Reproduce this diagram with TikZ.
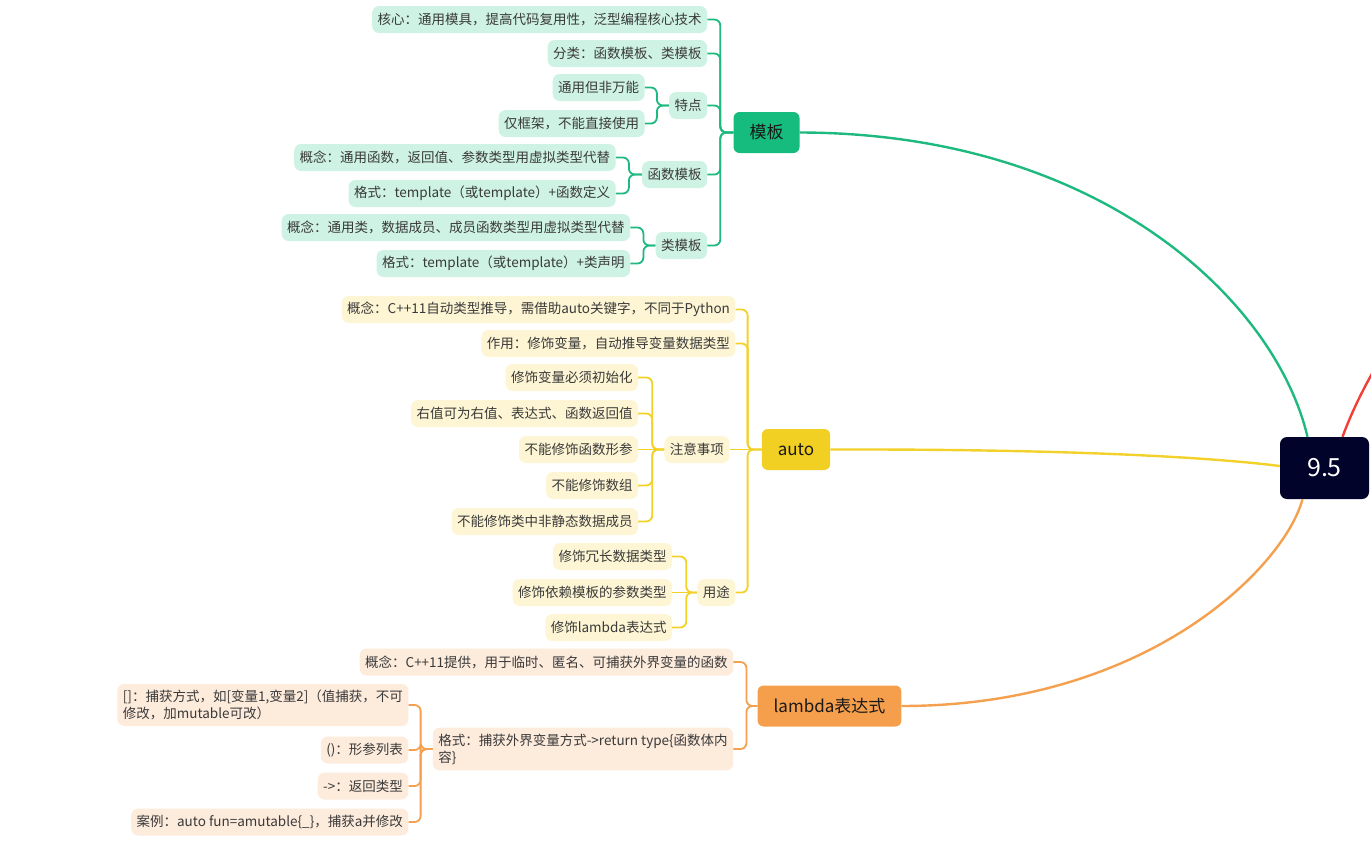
\documentclass[tikz,border=0pt]{standalone}
\usepackage{fontspec}
\newfontfamily\cjk{Noto Sans CJK SC}
\usepackage{xcolor}
\usetikzlibrary{positioning}
\definecolor{gline}{HTML}{1DB97F}
\definecolor{gmain}{HTML}{15BC7D}
\definecolor{glight}{HTML}{CEF2E4}
\definecolor{yline}{HTML}{F3D12B}
\definecolor{ymain}{HTML}{F2D023}
\definecolor{ylight}{HTML}{FDF5D3}
\definecolor{oline}{HTML}{F5A04E}
\definecolor{omain}{HTML}{F59E4B}
\definecolor{olight}{HTML}{FDEBDC}
\definecolor{rline}{HTML}{F23F38}
\definecolor{rootblue}{HTML}{02032A}
\definecolor{txtgray}{HTML}{3A3A3A}
\tikzset{
  % leaf text boxes
  leaf/.style={
    rounded corners=7pt, minimum height=27pt, inner xsep=5.5pt, inner ysep=2pt,
    text=txtgray, font=\cjk\fontsize{13.5}{17}\selectfont
  },
  twoline/.style={align=left, inner ysep=6pt},
  gleaf/.style={leaf, fill=glight},
  yleaf/.style={leaf, fill=ylight},
  oleaf/.style={leaf, fill=olight},
  % main topics
  topic/.style={
    rounded corners=6pt, minimum height=41pt, inner xsep=16pt,
    text=black!90, font=\cjk\fontsize{17}{20}\selectfont
  },
  % connectors
  glink/.style={gline, line width=1.8pt, rounded corners=6pt},
  ylink/.style={yline, line width=1.8pt, rounded corners=6pt},
  olink/.style={oline, line width=1.8pt, rounded corners=6pt},
  mainarr/.style={line width=2.4pt},
}

\begin{document}
\begin{tikzpicture}[x=1pt,y=-1pt]
  \useasboundingbox (0,0) rectangle (1371,849);
  \clip (0,0) rectangle (1371,849);

  \node (root) [fill=rootblue, rounded corners=7pt
               , minimum width=89pt, minimum height=62pt
               , text=white, font=\cjk\fontsize{25}{28}\selectfont
               ] at (1324.5,468) {9.5};
  \coordinate (hidden) at (1470,240);

  \node (muban) [topic, fill=gmain] at (766.5,132.5) {模板};
  \node (auto) [topic, fill=ymain] at (796,449.5) {auto};
  \node (lambda) [topic, fill=omain] at (829.5,706) {lambda表达式};

  % template branch
  \node (hexin) [gleaf, left=26pt of muban, yshift=113pt]
        {核心：通用模具，提高代码复用性，泛型编程核心技术\hspace{9pt}};
  \node (fenlei) [gleaf, left=26pt of muban, yshift=79pt]
        {分类：函数模板、类模板\hspace{10pt}};
  \node (tedian) [gleaf, left=26pt of muban, yshift=27pt] {特点};
  \node (hanshu) [gleaf, left=26pt of muban, yshift=-42pt] {函数模板};
  \node (leimb) [gleaf, left=26pt of muban, yshift=-113pt] {类模板};

  \node (tongyong) [gleaf, left=24pt of tedian, yshift=18pt] {通用但非万能};
  \node (kuangjia) [gleaf, left=24pt of tedian, yshift=-18pt] {仅框架，不能直接使用};
  \node (hsgn) [gleaf, left=26pt of hanshu, yshift=17pt]
        {概念：通用函数，返回值、参数类型用虚拟类型代替};
  \node (hsgs) [gleaf, left=26pt of hanshu, yshift=-19pt]
        {格式：template（或template）+函数定义};
  \node (lgn) [gleaf, left=25pt of leimb, yshift=18pt]
        {概念：通用类，数据成员、成员函数类型用虚拟类型代替};
  \node (lgs) [gleaf, left=25pt of leimb, yshift=-18pt]
        {格式：template（或template）+类声明};

  % auto branch
  \node (agn) [yleaf, left=26pt of auto, yshift=140pt]
        {概念：C++11自动类型推导，需借助auto关键字，不同于Python\hspace{8pt}};
  \node (azy) [yleaf, left=26pt of auto, yshift=106pt]
        {作用：修饰变量，自动推导变量数据类型};
  \node (zhuyi) [yleaf, left=32pt of auto] {注意事项};
  \node (yongtu) [yleaf, left=26pt of auto, yshift=-143pt] {用途};

  \node (chushi) [yleaf, left=26pt of zhuyi, yshift=72pt] {修饰变量必须初始化};
  \node (youzhi) [yleaf, left=26pt of zhuyi, yshift=36pt] {右值可为右值、表达式、函数返回值};
  \node (xingcan) [yleaf, left=26pt of zhuyi] {不能修饰函数形参};
  \node (shuzu) [yleaf, left=26pt of zhuyi, yshift=-36pt] {不能修饰数组};
  \node (feijt) [yleaf, left=26pt of zhuyi, yshift=-72pt] {不能修饰类中非静态数据成员};

  \node (rongchang) [yleaf, left=25pt of yongtu, yshift=36pt] {修饰冗长数据类型};
  \node (yilai) [yleaf, left=25pt of yongtu] {修饰依赖模板的参数类型};
  \node (xlambda) [yleaf, left=25pt of yongtu, yshift=-35pt] {修饰lambda表达式};

  % lambda branch
  \node (ogn) [oleaf, left=24pt of lambda, yshift=44pt]
        {概念：C++11提供，用于临时、匿名、可捕获外界变量的函数\hspace{8pt}};
  \node (ogs) [oleaf, twoline, left=24pt of lambda, yshift=-43pt]
        {格式：捕获外界变量方式->return type\{函数体内\\容\}};

  \node (buhuo) [oleaf, twoline, left=24pt of ogs, yshift=44pt]
        {[]：捕获方式，如[变量1,变量2]（值捕获，不可\\修改，加mutable可改）};
  \node (xclb) [oleaf, left=24pt of ogs, yshift=-1pt] {()：形参列表};
  \node (fhlx) [oleaf, left=24pt of ogs, yshift=-37pt] {->：返回类型};
  \node (anli) [oleaf, left=24pt of ogs, yshift=-73pt]
        {案例：auto fun=amutable\{\_\}，捕获a并修改};

  % main curves
  \draw[gline, mainarr] (muban.east) .. controls (1100,133) and (1275,300)
        .. ([xshift=-17pt]root.north);
  \draw[yline, mainarr] (auto.east) .. controls (1050,449) and (1200,456)
        .. ([yshift=2pt]root.west);
  \draw[oline, mainarr] (lambda.east) .. controls (1150,706) and (1285,565)
        .. ([xshift=-22pt]root.south);
  \draw[rline, mainarr] ([xshift=18pt]root.north) .. controls (1358,395) and (1390,330)
        .. (hidden);

  % template links
  \draw[glink] (muban.west) -- ++(-13,0) |- (hexin.east);
  \draw[glink] (muban.west) -- ++(-13,0) |- (fenlei.east);
  \draw[glink] (muban.west) -- ++(-13,0) |- (tedian.east);
  \draw[glink] (muban.west) -- ++(-13,0) |- (hanshu.east);
  \draw[glink] (muban.west) -- ++(-13,0) |- (leimb.east);
  \draw[glink] (tedian.west) -- ++(-12,0) |- (tongyong.east);
  \draw[glink] (tedian.west) -- ++(-12,0) |- (kuangjia.east);
  \draw[glink] (hanshu.west) -- ++(-13,0) |- (hsgn.east);
  \draw[glink] (hanshu.west) -- ++(-13,0) |- (hsgs.east);
  \draw[glink] (leimb.west) -- ++(-12,0) |- (lgn.east);
  \draw[glink] (leimb.west) -- ++(-12,0) |- (lgs.east);

  % auto links
  \draw[ylink] (auto.west) -- ++(-14,0) |- (agn.east);
  \draw[ylink] (auto.west) -- ++(-14,0) |- (azy.east);
  \draw[ylink] (auto.west) -- (zhuyi.east);
  \draw[ylink] (auto.west) -- ++(-14,0) |- (yongtu.east);
  \draw[ylink] (zhuyi.west) -- ++(-12,0) |- (chushi.east);
  \draw[ylink] (zhuyi.west) -- ++(-12,0) |- (youzhi.east);
  \draw[ylink] (zhuyi.west) -- (xingcan.east);
  \draw[ylink] (zhuyi.west) -- ++(-12,0) |- (shuzu.east);
  \draw[ylink] (zhuyi.west) -- ++(-12,0) |- (feijt.east);
  \draw[ylink] (yongtu.west) -- ++(-11,0) |- (rongchang.east);
  \draw[ylink] (yongtu.west) -- (yilai.east);
  \draw[ylink] (yongtu.west) -- ++(-11,0) |- (xlambda.east);

  % lambda links
  \draw[olink] (lambda.west) -- ++(-11,0) |- (ogn.east);
  \draw[olink] (lambda.west) -- ++(-11,0) |- (ogs.east);
  \draw[olink] (ogs.west) -- ++(-12,0) |- (buhuo.east);
  \draw[olink] (ogs.west) -- ++(-12,0) |- (xclb.east);
  \draw[olink] (ogs.west) -- ++(-12,0) |- (fhlx.east);
  \draw[olink] (ogs.west) -- ++(-12,0) |- (anli.east);
\end{tikzpicture}
\end{document}
